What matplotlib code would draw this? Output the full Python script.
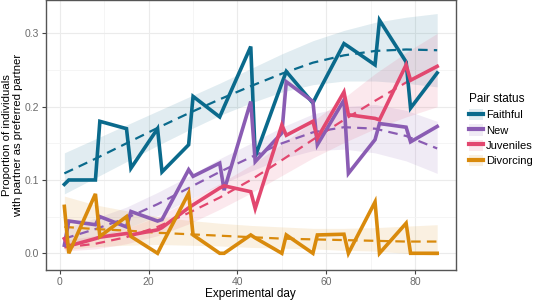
import matplotlib.pyplot as plt
from matplotlib.patches import Patch
from matplotlib.lines import Line2D
from matplotlib.ticker import MultipleLocator

# observation days (weekly pairs)
days = [1, 2, 8, 9, 15, 16, 22, 23, 29, 30, 36, 37, 43, 44, 50, 51, 57, 58, 64, 65, 71, 72, 78, 79, 85]

faithful = [0.094, 0.100, 0.100, 0.180, 0.170, 0.116, 0.170, 0.111, 0.148, 0.214, 0.186, 0.200, 0.282,
            0.132, 0.232, 0.248, 0.205, 0.217, 0.286, 0.282, 0.257, 0.318, 0.261, 0.198, 0.246]
new = [0.011, 0.044, 0.039, 0.050, 0.036, 0.057, 0.044, 0.046, 0.114, 0.105, 0.123, 0.086, 0.207,
       0.125, 0.164, 0.234, 0.207, 0.148, 0.209, 0.109, 0.155, 0.177, 0.172, 0.152, 0.173]
juveniles = [0.020, 0.010, 0.020, 0.022, 0.027, 0.025, 0.032, 0.035, 0.062, 0.066, 0.089, 0.092, 0.084,
             0.061, 0.175, 0.161, 0.180, 0.157, 0.220, 0.189, 0.184, 0.182, 0.257, 0.236, 0.255]
divorcing = [0.064, 0.000, 0.081, 0.023, 0.050, 0.023, 0.000, 0.012, 0.082, 0.025, 0.000, 0.000, 0.025,
             0.021, 0.000, 0.025, 0.000, 0.025, 0.026, 0.000, 0.070, 0.000, 0.041, 0.000, 0.000]

# fitted trends and confidence bands, read at weekly days
fit_days = [1, 8, 15, 22, 29, 36, 43, 50, 57, 64, 71, 78, 85]

faithful_fit = [0.109, 0.129, 0.150, 0.171, 0.191, 0.210, 0.228, 0.245, 0.260, 0.270, 0.276, 0.278, 0.277]
faithful_lo = [0.081, 0.103, 0.125, 0.147, 0.168, 0.188, 0.205, 0.220, 0.230, 0.235, 0.235, 0.232, 0.227]
faithful_hi = [0.137, 0.156, 0.175, 0.194, 0.213, 0.232, 0.252, 0.272, 0.290, 0.304, 0.315, 0.322, 0.327]

new_fit = [0.020, 0.033, 0.048, 0.067, 0.089, 0.111, 0.131, 0.150, 0.165, 0.172, 0.170, 0.160, 0.143]
new_lo = [0.010, 0.020, 0.034, 0.051, 0.073, 0.093, 0.112, 0.129, 0.140, 0.142, 0.137, 0.126, 0.109]
new_hi = [0.034, 0.048, 0.063, 0.083, 0.105, 0.129, 0.150, 0.172, 0.190, 0.200, 0.203, 0.195, 0.180]

juveniles_fit = [0.008, 0.013, 0.022, 0.036, 0.055, 0.076, 0.100, 0.127, 0.155, 0.182, 0.208, 0.233, 0.255]
juveniles_lo = [0.003, 0.006, 0.013, 0.024, 0.040, 0.060, 0.082, 0.106, 0.130, 0.151, 0.170, 0.186, 0.200]
juveniles_hi = [0.018, 0.024, 0.034, 0.050, 0.072, 0.095, 0.120, 0.149, 0.180, 0.212, 0.245, 0.274, 0.300]

divorcing_fit = [0.036, 0.033, 0.031, 0.028, 0.026, 0.024, 0.022, 0.020, 0.019, 0.018, 0.017, 0.016, 0.016]
divorcing_lo = [0.005, 0.009, 0.011, 0.012, 0.011, 0.010, 0.008, 0.007, 0.006, 0.004, 0.003, 0.000, -0.003]
divorcing_hi = [0.078, 0.066, 0.058, 0.050, 0.045, 0.041, 0.038, 0.036, 0.034, 0.034, 0.035, 0.037, 0.039]

labels = ['Faithful', 'New', 'Juveniles', 'Divorcing']
colors = ['#0a6a8c', '#8a5cb3', '#e2476f', '#d98a0c']
raw = [faithful, new, juveniles, divorcing]
fits = [faithful_fit, new_fit, juveniles_fit, divorcing_fit]
los = [faithful_lo, new_lo, juveniles_lo, divorcing_lo]
his = [faithful_hi, new_hi, juveniles_hi, divorcing_hi]

fig = plt.figure(figsize=(5.34, 3.0), dpi=100)
ax = fig.add_axes([0.0856, 0.1, 0.768, 0.9])

for lo, hi, c in zip(los, his, colors):
    ax.fill_between(fit_days, lo, hi, color=c, alpha=0.12, linewidth=0, zorder=1)

for y, f, c in zip(raw, fits, colors):
    ax.plot(fit_days, f, color=c, lw=1.6, dashes=(4.3, 2.8), zorder=2)
    ax.plot(days, y, color=c, lw=2.6, solid_joinstyle='miter', zorder=3)

ax.set_xlim(-3.2, 89.2)
ax.set_ylim(-0.0228, 0.3455)
ax.xaxis.set_major_locator(MultipleLocator(20))
ax.xaxis.set_minor_locator(MultipleLocator(10))
ax.yaxis.set_major_locator(MultipleLocator(0.1))
ax.yaxis.set_minor_locator(MultipleLocator(0.05))
ax.set_yticks([0.0, 0.1, 0.2, 0.3])
ax.set_yticklabels(['0.0', '0.1', '0.2', '0.3'])
ax.grid(which='major', color='#ebebeb', lw=0.8, zorder=0)
ax.grid(which='minor', color='#f4f4f4', lw=0.6, zorder=0)
ax.set_axisbelow(True)
for s in ax.spines.values():
    s.set_color('#555555')
    s.set_linewidth(1.0)
ax.tick_params(which='major', length=3, color='#444444', labelsize=7.5, labelcolor='#6b6b6b',
               width=0.8, pad=2)
ax.tick_params(which='minor', length=0)
for t in ax.get_xticklabels() + ax.get_yticklabels():
    t.set_family('Liberation Sans')

ax.set_xlabel('Experimental day', fontsize=8.5, family='Liberation Sans', labelpad=1)
ax.set_ylabel('Proportion of individuals\nwith partner as preferred partner', fontsize=8.2,
              family='Liberation Sans', linespacing=1.1)
ax.yaxis.set_label_coords(-0.055, 0.5)

handles = [(Patch(facecolor=c, alpha=0.12, edgecolor='none'), Line2D([], [], color=c, lw=3))
           for c in colors]
leg = fig.legend(handles, labels, title='Pair status', loc='upper left',
                 bbox_to_anchor=(0.878, 0.69), frameon=False, fontsize=8,
                 title_fontsize=8.5, handlelength=1.3, handleheight=1.2, handletextpad=0.25,
                 labelspacing=0.35, borderaxespad=0, borderpad=0)
leg._legend_box.align = 'left'
for t in leg.get_texts():
    t.set_family('Liberation Sans')
leg.get_title().set_family('Liberation Sans')

fig.savefig('out.png', dpi=100)
